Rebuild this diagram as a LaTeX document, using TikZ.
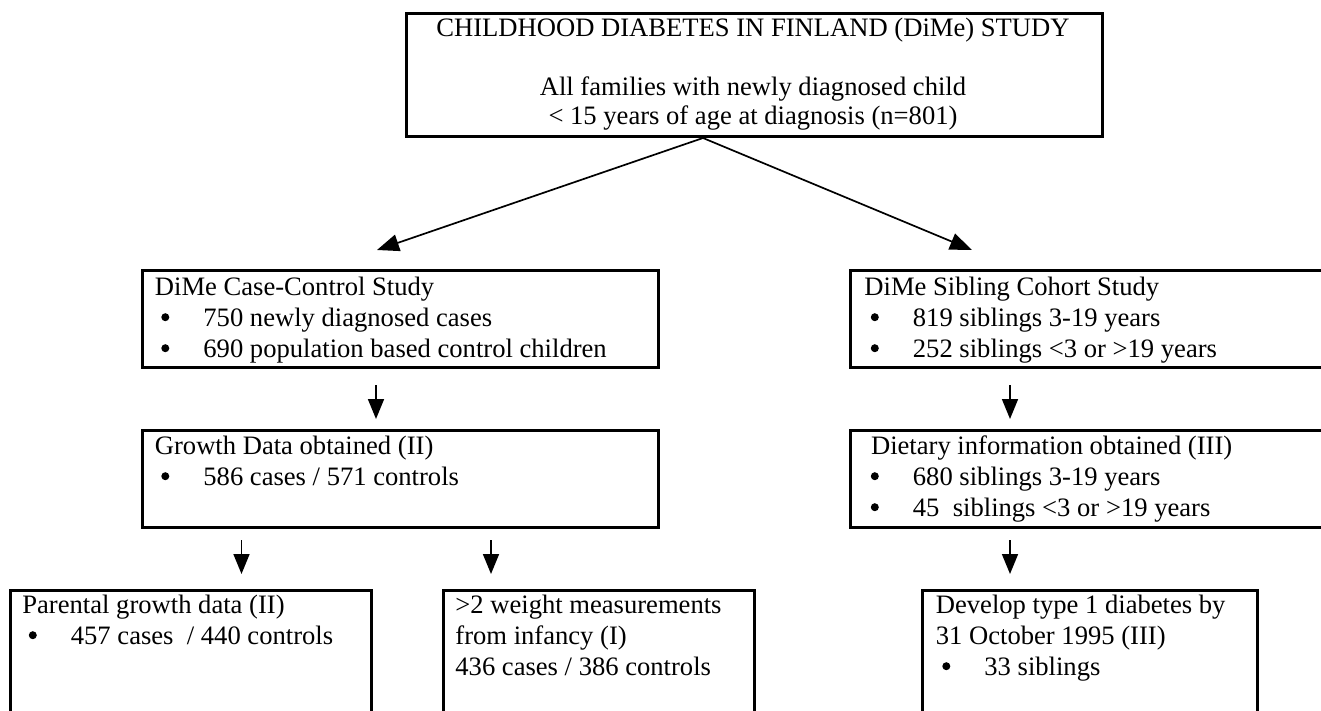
\documentclass[tikz,border=0pt]{standalone}
\usepackage{fontspec}
\setmainfont{Liberation Serif}
\usetikzlibrary{arrows.meta,calc}
\newcommand{\dmbul}{\makebox[24.25pt][l]{\hspace{3.2pt}\tikz[baseline=0pt]\fill (0pt,4.6pt) circle[radius=2pt];}}
\begin{document}
\begin{tikzpicture}[x=0.5pt,y=-0.5pt,
  box/.style 2 args={draw, line width=1.5pt, anchor=north west, inner sep=0pt,
    minimum width={#1*0.5pt}, minimum height={#2*0.5pt}},
  txt/.style={anchor=north west, inner sep=0pt, align=left,
    font=\fontsize{13.3pt}{15.5pt}\selectfont},
  ttl/.style={anchor=north, inner sep=0pt, align=center,
    font=\fontsize{13.3pt}{14.75pt}\selectfont},
  arr/.style={line width=0.85pt, -{Triangle[length=11pt,width=8.5pt]}},
  varr/.style={line width=0.85pt, -{Triangle[length=10pt,width=8pt]}}
]
\useasboundingbox (0,0) rectangle (1321,711);
\clip (0,0) rectangle (1321,711);

% boxes
\node[box={696}{123}] (top)  at (405,12) {};
\node[box={516}{97}]  (cc)   at (141,269) {};
\node[box={520}{97}]  (sib)  at (848.5,269) {};
\node[box={516}{97}]  (gr)   at (141,429) {};
\node[box={520}{97}]  (diet) at (848.5,429) {};
\node[box={361}{140}] (par)  at (9,589) {};
\node[box={311}{140}] (wt)   at (441.5,589) {};
\node[box={335}{140}] (dev)  at (921,589) {};

% texts
\node[ttl] (topt) at (753,15.35) {\strut CHILDHOOD DIABETES IN FINLAND (DiMe) STUDY\\ \strut\\
  \strut All families with newly diagnosed child\\ \strut < 15 years of age at diagnosis (n=801)};
\node[txt] (cct) at (154.5,273.3) {\strut DiMe Case-Control Study\\
  \strut\dmbul 750 newly diagnosed cases\\
  \strut\dmbul 690 population based control children};
\node[txt] (sibt) at (864,273.3) {\strut DiMe Sibling Cohort Study\\
  \strut\dmbul 819 siblings 3-19 years\\
  \strut\dmbul 252 siblings <3 or >19 years};
\node[txt] (grt) at (154.5,432.3) {\strut Growth Data obtained (II)\\
  \strut\dmbul 586 cases / 571 controls};
\node[txt] (diett) at (864,432.3) {\strut\ Dietary information obtained (III)\\
  \strut\dmbul 680 siblings 3-19 years\\
  \strut\dmbul 45\ \ siblings <3 or >19 years};
\node[txt] (part) at (22,591.3) {\strut Parental growth data (II)\\
  \strut\dmbul 457 cases\ \ / 440 controls};
\node[txt] (wtt) at (455,591.3) {\strut >2 weight measurements\\
  \strut from infancy (I)\\
  \strut 436 cases / 386 controls};
\node[txt] (devt) at (935.5,591.3) {\strut Develop type 1 diabetes by\\
  \strut 31 October 1995 (III)\\
  \strut\dmbul 33 siblings};

% connectors
\coordinate (apex) at ($(top.south west)+(298,0)$);
\draw[arr] (apex) -- ($(cc.north west)+(236,-19)$);
\draw[arr] (apex) -- ($(sib.north west)+(123.5,-19)$);
\draw[varr] ($(cc.south west)+(235,16)$) -- ($(gr.north west)+(235,-10)$);
\draw[varr] ($(sib.south west)+(161.5,16)$) -- ($(diet.north west)+(161.5,-10)$);
\draw[varr] ($(gr.south west)+(100.5,11)$) -- ($(par.north west)+(232.5,-15)$);
\draw[varr] ($(gr.south west)+(350,11)$) -- ($(wt.north west)+(49.5,-15)$);
\draw[varr] ($(diet.south west)+(161.5,11)$) -- ($(dev.north west)+(89,-15)$);
\end{tikzpicture}
\end{document}
